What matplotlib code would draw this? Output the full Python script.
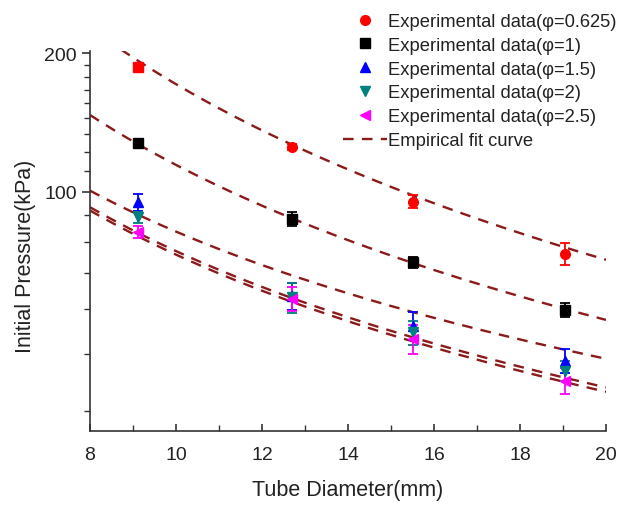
import numpy as np
import matplotlib
matplotlib.use("Agg")
import matplotlib.pyplot as plt
from matplotlib.ticker import FixedLocator, NullFormatter, FixedFormatter
from matplotlib.lines import Line2D

plt.rcParams['font.family'] = ['Liberation Sans', 'DejaVu Sans']

# ---- data ----
diameters = [9.12, 12.7, 15.5, 19.05]

p_phi0625 = [187.0, 124.9, 95.1, 73.2]
e_phi0625 = [3.0, 2.0, 3.0, 4.0]
m_phi0625 = ['s', 'o', 'o', 'o']

p_phi1 = [127.4, 87.2, 70.2, 55.3]
e_phi1 = [2.0, 3.0, 2.0, 2.0]

p_phi15 = [94.8, 59.4, 51.1, 42.9]
e_phi15 = [4.0, 4.0, 3.5, 2.5]

p_phi2 = [88.0, 58.9, 49.4, 40.8]
e_phi2 = [2.5, 4.5, 3.0, 2.0]

p_phi25 = [81.6, 58.4, 47.8, 38.8]
e_phi25 = [2.5, 3.5, 3.5, 2.5]

# empirical fit curves P = p8 * (D/8)**b
fit_p8 = [227.4, 146.8, 100.5, 92.5, 91.0]
fit_b = [-1.269, -1.12, -0.919, -0.985, -0.991]

legend_labels = ['Experimental data(φ=0.625)', 'Experimental data(φ=1)',
                 'Experimental data(φ=1.5)', 'Experimental data(φ=2)',
                 'Experimental data(φ=2.5)', 'Empirical fit curve']

y_major = [100, 200]
y_minor = [33.3, 44.4, 55.6, 66.7, 77.8, 88.9, 111.1, 122.2, 133.3, 144.4,
           155.6, 166.7, 177.8, 188.9]
x_major = [8, 10, 12, 14, 16, 18, 20]
x_minor = [9, 11, 13, 15, 17, 19]

# ---- figure ----
fig = plt.figure(figsize=(6.21, 5.06), dpi=100)
ax = fig.add_axes([90/621, 1-431.7/506, (606-90)/621, (431.7-51.7)/506])
ax.set_yscale('log')

fit_color = '#8B1A1A'
D = np.linspace(8, 20, 200)
for p8, b in zip(fit_p8, fit_b):
    ax.plot(D, p8 * (D/8.0)**b, color=fit_color, lw=1.7,
            dashes=(4.5, 3.5), zorder=2)

series = [
    (p_phi1, e_phi1, 'black', 's', 6.5),
    (p_phi15, e_phi15, 'blue', '^', 7.5),
    (p_phi2, e_phi2, '#008080', 'v', 7.5),
    (p_phi25, e_phi25, 'magenta', '<', 7.5),
]

for x, y, e, m in zip(diameters, p_phi0625, e_phi0625, m_phi0625):
    ax.errorbar([x], [y], yerr=[e], fmt=m, color='red', ms=7,
                capsize=3.5, elinewidth=1.3, capthick=1.3, zorder=3)
for ys, es, c, m, ms in series:
    ax.errorbar(diameters, ys, yerr=es, fmt=m, color=c, ms=ms,
                capsize=3.5, elinewidth=1.3, capthick=1.3, zorder=3,
                linestyle='none')

ax.set_xlim(8, 20)
ax.set_ylim(30.2, 202.6)

ax.yaxis.set_major_locator(FixedLocator(y_major))
ax.yaxis.set_major_formatter(FixedFormatter([str(v) for v in y_major]))
ax.yaxis.set_minor_locator(FixedLocator(y_minor))
ax.yaxis.set_minor_formatter(NullFormatter())
ax.xaxis.set_major_locator(FixedLocator(x_major))
ax.xaxis.set_minor_locator(FixedLocator(x_minor))

for s in ['top', 'right']:
    ax.spines[s].set_visible(False)
for s in ['left', 'bottom']:
    ax.spines[s].set_linewidth(1.2)
    ax.spines[s].set_color('#333333')

ax.tick_params(axis='y', which='major', direction='out', length=6, width=1.2,
               labelsize=14, colors='#333333', labelcolor='#222222')
ax.tick_params(axis='y', which='minor', direction='out', length=4, width=1.0,
               colors='#333333')
ax.tick_params(axis='x', which='major', direction='in', length=5, width=1.2,
               labelsize=14, pad=11, colors='#333333', labelcolor='#222222')
ax.tick_params(axis='x', which='minor', direction='in', length=4, width=1.0,
               colors='#333333')

ax.set_xlabel('Tube Diameter(mm)', fontsize=15.5, color='#222222')
ax.set_ylabel('Initial Pressure(kPa)', fontsize=15.5, color='#222222')
ax.xaxis.set_label_coords(0.5, -(480 - 431.7) / 380)
ax.yaxis.set_label_coords((36 - 90) / 516, (431.7 - 256) / 380)

handles = [
    Line2D([], [], ls='none', marker='o', color='red', ms=7),
    Line2D([], [], ls='none', marker='s', color='black', ms=6.5),
    Line2D([], [], ls='none', marker='^', color='blue', ms=7.5),
    Line2D([], [], ls='none', marker='v', color='#008080', ms=7.5),
    Line2D([], [], ls='none', marker='<', color='magenta', ms=7.5),
    Line2D([], [], color=fit_color, lw=1.7, dashes=(4.5, 3.5)),
]
fig.legend(handles, legend_labels, loc='upper left',
           bbox_to_anchor=(343/621, 1-14/506), frameon=False,
           fontsize=13.2, handlelength=2.4, handletextpad=0.05,
           labelspacing=0.37, borderpad=0, borderaxespad=0,
           labelcolor='#222222')

fig.savefig('out.png', dpi=100)
